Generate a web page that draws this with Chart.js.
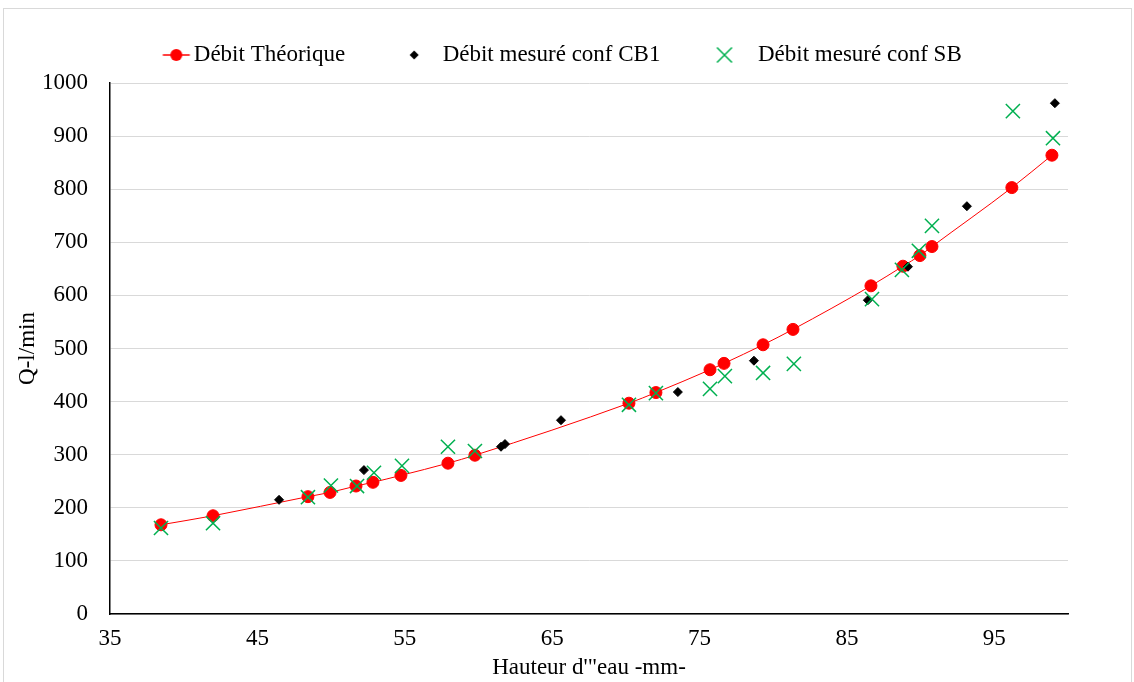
<!DOCTYPE html>
<html><head><meta charset="utf-8">
<script src="https://cdn.jsdelivr.net/npm/chart.js@4.4.0/dist/chart.umd.min.js"></script>
<style>
html,body{margin:0;padding:0;background:#fff;}
#wrap{position:relative;width:1134px;height:682px;overflow:hidden;background:#fff;}
#frame{position:absolute;left:3px;top:8px;width:1127px;height:700px;border:1px solid #d9d9d9;}
canvas{position:absolute;left:0;top:0;}
</style></head><body>
<div id="wrap"><div id="frame"></div><canvas id="c" width="1134" height="682"></canvas></div>
<script>
// ---- data ----
const seriesNames = ['Débit Théorique', 'Débit mesuré conf CB1', 'Débit mesuré conf SB'];
const theoX = [38.46, 41.99, 48.43, 49.93, 51.69, 52.84, 54.74, 57.93, 59.76, 70.21, 72.04, 75.71, 76.66, 79.31, 81.34, 86.63, 88.80, 89.95, 90.77, 96.19, 98.91];
const theoY = [168, 185, 221, 229, 241, 248, 261, 284, 299, 397, 417, 460, 472, 507, 536, 618, 655, 675, 692, 803, 864];
const cb1X = [46.47, 52.23, 61.53, 61.80, 65.60, 73.53, 78.69, 86.42, 89.14, 93.14, 99.11];
const cb1Y = [215, 271, 315, 320, 365, 418, 477, 591, 654, 768, 962];
const sbX = [38.46, 41.99, 48.43, 49.99, 51.76, 52.91, 54.81, 57.93, 59.76, 70.21, 72.04, 75.71, 76.72, 79.31, 81.40, 86.70, 88.73, 89.88, 90.77, 96.26, 98.98];
const sbY = [162, 171, 220, 242, 241, 266, 279, 315, 307, 394, 416, 424, 448, 454, 471, 593, 648, 684, 731, 947, 896];
const xTicks = [35, 45, 55, 65, 75, 85, 95];
const yTicks = [0, 100, 200, 300, 400, 500, 600, 700, 800, 900, 1000];
const xTickLabels = ['35', '45', '55', '65', '75', '85', '95'];
const yTickLabels = ['0', '100', '200', '300', '400', '500', '600', '700', '800', '900', '1000'];
const xTitle = 'Hauteur d\'"eau -mm-';
const yTitle = 'Q-l/min';

const pts = (xs, ys) => xs.map((x, i) => ({x: x, y: ys[i]}));
const FONT = 'Liberation Serif';
const GREEN = '#00B050';

function makeImg(w, h, draw) {
  const c = document.createElement('canvas');
  c.width = w; c.height = h;
  draw(c.getContext('2d'), w, h);
  return c;
}
const legendImgs = [
  makeImg(94, 14, (ctx, w, h) => {
    const cx = w / 2 + 32, cy = h / 2;
    ctx.strokeStyle = 'red'; ctx.lineWidth = 1.5;
    ctx.beginPath(); ctx.moveTo(cx - 13.5, cy); ctx.lineTo(cx + 13.5, cy); ctx.stroke();
    ctx.fillStyle = 'red'; ctx.beginPath(); ctx.arc(cx, cy, 6, 0, Math.PI * 2); ctx.fill();
  }),
  makeImg(54, 12, (ctx, w, h) => {
    const cx = w / 2 + 21, cy = h / 2, r = 4.5;
    ctx.fillStyle = '#000'; ctx.beginPath();
    ctx.moveTo(cx, cy - r); ctx.lineTo(cx + r, cy); ctx.lineTo(cx, cy + r); ctx.lineTo(cx - r, cy); ctx.closePath(); ctx.fill();
  }),
  makeImg(50, 18, (ctx, w, h) => {
    const cx = w / 2 + 16, cy = h / 2, r = 7.5;
    ctx.strokeStyle = GREEN; ctx.lineWidth = 1.5; ctx.beginPath();
    ctx.moveTo(cx - r, cy - r); ctx.lineTo(cx + r, cy + r);
    ctx.moveTo(cx + r, cy - r); ctx.lineTo(cx - r, cy + r); ctx.stroke();
  })
];

const legendShift = {
  id: 'legendShift',
  afterLayout(chart) {
    const l = chart.legend;
    if (l) { l.top -= 6.5; l.bottom -= 6.5; }
  }
};

new Chart(document.getElementById('c'), {
  type: 'scatter',
  data: {
    datasets: [
      {
        label: seriesNames[0], data: pts(theoX, theoY), showLine: true,
        borderColor: '#ff0000', borderWidth: 1, backgroundColor: '#ff0000',
        pointRadius: 6, pointBackgroundColor: '#ff0000', pointBorderColor: '#ff0000', pointBorderWidth: 1,
        cubicInterpolationMode: 'monotone', order: 3
      },
      {
        label: seriesNames[1], data: pts(cb1X, cb1Y), showLine: false,
        pointStyle: 'rectRot', pointRadius: 4.5, pointBackgroundColor: '#000', pointBorderColor: '#000',
        pointBorderWidth: 1, borderColor: '#000', backgroundColor: '#000', order: 2
      },
      {
        label: seriesNames[2], data: pts(sbX, sbY), showLine: false,
        pointStyle: 'crossRot', pointRadius: 10, pointBorderColor: GREEN, pointBorderWidth: 1.5,
        borderColor: GREEN, backgroundColor: GREEN, order: 1
      }
    ]
  },
  options: {
    responsive: false, animation: false, events: [],
    layout: { padding: { left: 0, right: 66, top: 40, bottom: 0 } },
    plugins: {
      tooltip: { enabled: false },
      legend: {
        position: 'top', align: 'center',
        labels: {
          usePointStyle: true, pointStyleWidth: 76, padding: 10, color: '#000',
          font: { family: FONT, size: 23 },
          sort: (a, b) => a.datasetIndex - b.datasetIndex,
          generateLabels(chart) {
            const items = Chart.defaults.plugins.legend.labels.generateLabels(chart);
            items.forEach((it) => { it.pointStyle = legendImgs[it.datasetIndex]; });
            return items;
          }
        }
      }
    },
    scales: {
      x: {
        type: 'linear', min: 35, max: 100,
        afterBuildTicks(scale) { scale.ticks = xTicks.map(v => ({value: v})); },
        afterFit(scale) { scale.height = 68; },
        grid: { display: false, drawTicks: false },
        border: { display: true, color: '#000', width: 1.5 },
        ticks: {
          color: '#000', font: { family: FONT, size: 23 }, padding: 11, maxRotation: 0,
          callback: (v) => { const i = xTicks.indexOf(v); return i >= 0 ? xTickLabels[i] : ''; }
        },
        title: { display: true, text: xTitle, color: '#000', font: { family: FONT, size: 23 }, padding: { top: 0, bottom: 0 } }
      },
      y: {
        type: 'linear', min: 0, max: 1000,
        afterBuildTicks(scale) { scale.ticks = yTicks.map(v => ({value: v})); },
        afterFit(scale) { scale.width = 110; },
        grid: { color: '#d9d9d9', lineWidth: 1, drawTicks: false },
        border: { display: true, color: '#000', width: 1.5 },
        ticks: {
          color: '#000', font: { family: FONT, size: 23 }, padding: 22,
          callback: (v) => { const i = yTicks.indexOf(v); return i >= 0 ? yTickLabels[i] : ''; }
        },
        title: { display: true, text: yTitle, color: '#000', font: { family: FONT, size: 23 }, padding: { top: 14, bottom: 0 } }
      }
    }
  },
  plugins: [legendShift]
});
</script>
</body></html>
